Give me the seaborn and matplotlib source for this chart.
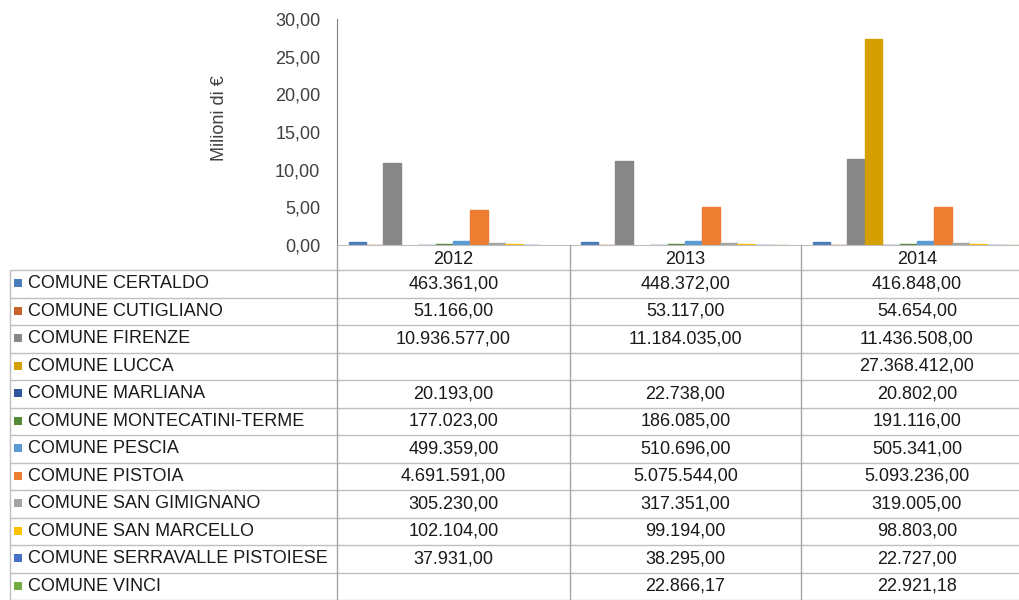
import numpy as np
import pandas as pd
import matplotlib
matplotlib.use("Agg")
import matplotlib.pyplot as plt
import seaborn as sns
from matplotlib.patches import Rectangle

# Data (euro)
years = ["2012", "2013", "2014"]
comuni = ["COMUNE CERTALDO", "COMUNE CUTIGLIANO", "COMUNE FIRENZE", "COMUNE LUCCA",
          "COMUNE MARLIANA", "COMUNE MONTECATINI-TERME", "COMUNE PESCIA",
          "COMUNE PISTOIA", "COMUNE SAN GIMIGNANO", "COMUNE SAN MARCELLO",
          "COMUNE SERRAVALLE PISTOIESE", "COMUNE VINCI"]
certaldo = [463361.00, 448372.00, 416848.00]
cutigliano = [51166.00, 53117.00, 54654.00]
firenze = [10936577.00, 11184035.00, 11436508.00]
lucca = [np.nan, np.nan, 27368412.00]
marliana = [20193.00, 22738.00, 20802.00]
montecatini = [177023.00, 186085.00, 191116.00]
pescia = [499359.00, 510696.00, 505341.00]
pistoia = [4691591.00, 5075544.00, 5093236.00]
san_gimignano = [305230.00, 317351.00, 319005.00]
san_marcello = [102104.00, 99194.00, 98803.00]
serravalle = [37931.00, 38295.00, 22727.00]
vinci = [np.nan, 22866.17, 22921.18]
series = [certaldo, cutigliano, firenze, lucca, marliana, montecatini, pescia,
          pistoia, san_gimignano, san_marcello, serravalle, vinci]
colors = ["#4a7ebb", "#c8642c", "#878787", "#d4a000", "#2f55a0", "#558b37",
          "#5b9bd5", "#ed7d31", "#a5a5a5", "#ffc000", "#4472c4", "#70ad47"]

rows = []
for name, vals in zip(comuni, series):
    for y, v in zip(years, vals):
        rows.append({"anno": y, "comune": name, "valore": v / 1e6})
df = pd.DataFrame(rows)


def fmt_it(v):
    if np.isnan(v):
        return ""
    s = f"{v:,.2f}"
    return s.replace(",", "X").replace(".", ",").replace("X", ".")


sns.set_style("white")
plt.rcParams["font.family"] = ["Liberation Sans", "DejaVu Sans"]
FS = 13
W, H = 1019, 600

fig = plt.figure(figsize=(W / 100, H / 100), dpi=100)

# chart axes (pixel layout: x 337..1033, y 19..245)
ax = fig.add_axes([337 / W, (H - 245) / H, (1033 - 337) / W, (245 - 19) / H])
sns.barplot(data=df, x="anno", y="valore", hue="comune", hue_order=comuni,
            order=years, palette=colors, width=0.9, gap=0, saturation=1,
            linewidth=0, legend=False, ax=ax)
# Excel-like thin outline in the bar colour, keeps tiny bars visible
for p in ax.patches:
    p.set_edgecolor(p.get_facecolor())
    p.set_linewidth(1.0)

ax.set_xlim(-0.5, 2.5)
ax.set_ylim(0, 30)
ax.set_yticks(np.arange(0, 31, 5))
ax.set_yticklabels([f"{t:.2f}".replace(".", ",") for t in np.arange(0, 31, 5)],
                   fontsize=FS, color="#404040")
ax.tick_params(axis="y", length=0, pad=12)
ax.tick_params(axis="x", length=0, pad=4, labelsize=FS, labelcolor="#1a1a1a")
ax.set_xlabel("")
ax.set_ylabel("Milioni di €", fontsize=FS, color="#404040")
ax.yaxis.set_label_coords(-0.156, 0.56)
for s in ["top", "right"]:
    ax.spines[s].set_visible(False)
ax.spines["left"].set_color("#7f7f7f")
ax.spines["bottom"].set_color("#bfbfbf")

# data table drawn on an overlay in pixel coordinates
ov = fig.add_axes([0, 0, 1, 1])
ov.set_xlim(0, W)
ov.set_ylim(H, 0)
ov.axis("off")
ov.patch.set_alpha(0)

grid = "#bfbfbf"
col_edges = [337, 570, 801, 1033]
row_top = 270
row_h = 27.5
n = len(comuni)
for k in range(n + 1):
    y = row_top + k * row_h
    ov.plot([10, W], [y, y], color=grid, lw=1)
ov.plot([10, 10], [row_top, H], color=grid, lw=1)
ov.plot([337, 337], [245, H], color="#a6a6a6", lw=1)
for x in col_edges[1:3]:
    ov.plot([x, x], [245, H], color="#a6a6a6", lw=1)

for i, (name, vals, c) in enumerate(zip(comuni, series, colors)):
    yc = row_top + (i + 0.5) * row_h
    ov.add_patch(Rectangle((14, yc - 4.5), 8, 8, color=c, lw=0))
    ov.text(28, yc, name, fontsize=FS, color="#1a1a1a", va="center", ha="left")
    for j, v in enumerate(vals):
        xc = (col_edges[j] + col_edges[j + 1]) / 2
        ov.text(xc, yc, fmt_it(v), fontsize=FS, color="#1a1a1a",
                va="center", ha="center")

fig.savefig("out.png", dpi=100)
